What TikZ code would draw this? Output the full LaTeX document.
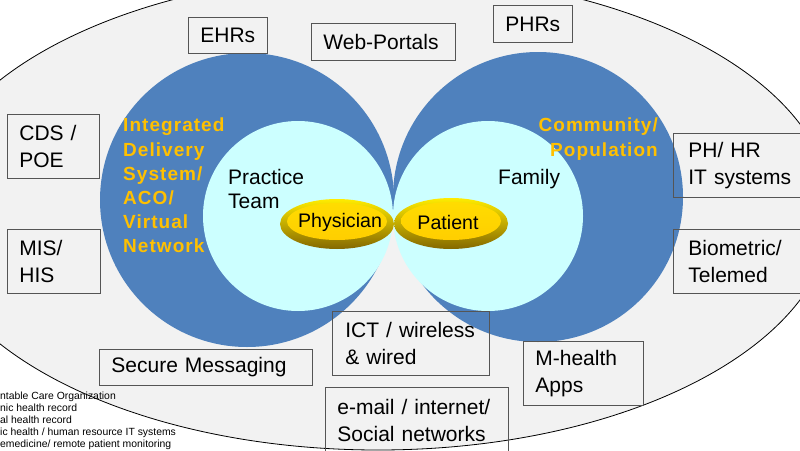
\documentclass[tikz,border=0pt]{standalone}
\usepackage{fontspec}
\setmainfont{Liberation Sans}
\definecolor{bg}{RGB}{242,242,242}
\definecolor{ringblue}{RGB}{79,129,189}
\definecolor{lcyan}{RGB}{204,255,255}
\definecolor{goldtxt}{RGB}{255,192,0}
\definecolor{boxline}{RGB}{85,85,85}
\definecolor{goldlight}{RGB}{255,236,0}
\definecolor{golddark}{RGB}{132,104,0}
\definecolor{goldmid}{RGB}{228,184,0}
\definecolor{goldin}{RGB}{255,206,0}
\definecolor{goldintop}{RGB}{255,220,0}
\tikzset{
  infobox/.style={draw=boxline, line width=0.8pt, anchor=north west, inner xsep=12pt, inner ysep=0pt,
    align=left, font=\fontsize{21}{27}\selectfont},
  ringlabel/.style={text=goldtxt, inner sep=0pt, font=\fontsize{19}{24.2}\selectfont\bfseries\addfontfeature{LetterSpace=5.5}},
  plaintext/.style={font=\fontsize{21}{24}\selectfont, align=left, inner sep=0pt},
  goldtext/.style={font=\fontsize{19.6}{22}\selectfont, inner sep=0pt},
  notes/.style={font=\fontsize{10.4}{12}\selectfont, align=left, inner sep=0pt, anchor=north west},
}
\begin{document}
\begin{tikzpicture}[x=1pt,y=-1pt]
\useasboundingbox (0,0) rectangle (800,450);
\clip (0,0) rectangle (800,450);
% outer ellipse
\filldraw[fill=bg, draw=black, line width=0.8pt] (378,212) ellipse [x radius=454pt, y radius=238pt];
% blue rings
\fill[ringblue] (247,200) circle [radius=147pt];
\fill[ringblue] (538,197) circle [radius=145pt];
% inner cyan circles
\fill[lcyan] (298,216) circle [radius=95pt];
\fill[lcyan] (488,216) circle [radius=95pt];
% gold ellipses
\shade[top color=goldlight, middle color=goldmid, bottom color=golddark] (337,224) ellipse [x radius=57pt, y radius=25pt];
\shade[top color=goldintop, bottom color=goldin] (337,221.5) ellipse [x radius=50pt, y radius=18.5pt];
\shade[top color=goldlight, middle color=goldmid, bottom color=golddark] (451,223.5) ellipse [x radius=57pt, y radius=25.5pt];
\shade[top color=goldintop, bottom color=goldin] (451,221) ellipse [x radius=50pt, y radius=19pt];
\node[goldtext] (physician) at (340,222) {Physician};
\node[goldtext] (patient) at (448,222) {Patient};
% inner labels
\node[plaintext, anchor=north west] (practice) at (228,169) {Practice\\Team};
\node[plaintext, anchor=north west] (family) at (498,169) {Family};
% ring labels
\node[ringlabel, align=left, anchor=north west] (ids) at (123,118) {Integrated\\Delivery\\System/\\ACO/\\Virtual\\Network};
\node[ringlabel, align=right, anchor=north east] (community) at (658,118) {Community/\\Population};
% boxes
\node[infobox, text width=55pt, minimum height=36pt] (ehrs) at (188,17) {EHRs};
\node[infobox, text width=120pt, minimum height=37pt] (web) at (311,23) {Web-Portals};
\node[infobox, text width=55pt, minimum height=37pt] (phrs) at (493,5) {PHRs};
\node[infobox, text width=68pt, minimum height=64pt] (cds) at (7,114) {CDS /\\POE};
\node[infobox, inner xsep=15pt, text width=105pt, minimum height=64pt] (phhr) at (673,133) {PH/ HR\\IT systems};
\node[infobox, text width=69pt, minimum height=64pt] (mis) at (7,229) {MIS/\\HIS};
\node[infobox, inner xsep=15pt, text width=105pt, minimum height=64pt] (bio) at (673,229) {Biometric/\\Telemed};
\node[infobox, text width=189pt, minimum height=36pt] (secure) at (99,349) {Secure Messaging};
\node[infobox, inner xsep=13pt, text width=131pt, minimum height=64pt] (ict) at (332,311) {ICT / wireless\\\& wired};
\node[infobox, text width=96pt, minimum height=64pt] (mhealth) at (523,341) {M-health\\Apps};
\node[infobox, text width=159pt, minimum height=66pt] (email) at (325,387) {e-mail / internet/\\Social networks};
% footnotes
\node[notes] (footnotes) at (0,392) {ntable Care Organization\\nic health record\\al health record\\ic health / human resource IT systems\\emedicine/ remote patient monitoring};
\end{tikzpicture}
\end{document}
